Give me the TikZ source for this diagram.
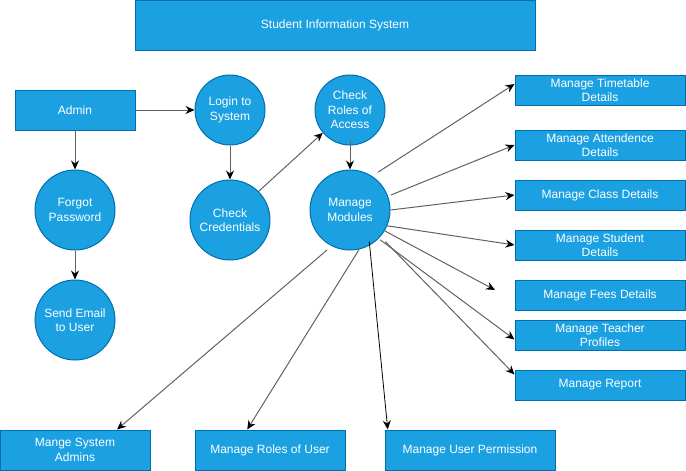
\documentclass[tikz,border=0pt]{standalone}
\usepackage{fontspec}
\setmainfont{Liberation Sans}
\usetikzlibrary{arrows.meta}
\definecolor{fillblue}{HTML}{1BA1E2}
\definecolor{strokeblue}{HTML}{006EAF}
\begin{document}
\begin{tikzpicture}[x=1pt,y=-1pt,
  every node/.style={font=\fontsize{12}{14.4}\selectfont, text=white, align=center, inner sep=0pt},
  shp/.style={draw=strokeblue, fill=fillblue, line width=1pt},
  rbox/.style={shp, rectangle, minimum width=170pt, minimum height=30pt},
  bbox/.style={shp, rectangle, minimum width=#1, minimum height=40pt},
  bigc/.style={shp, circle, minimum size=80pt},
  smallc/.style={shp, circle, minimum size=70pt},
  conn/.style={draw=black!62, line width=1pt, -{Stealth[length=9pt,width=8pt,inset=3pt,color=black]}},
  blackconn/.style={draw=black, line width=0.8pt, -{Stealth[length=9pt,width=8pt,inset=3pt,color=black]}}
]
\useasboundingbox (0,0) rectangle (686,471);

% title
\node[shp, rectangle, minimum width=400pt, minimum height=50pt] (title) at (335,25) {Student Information System};

% left part
\node[bbox=120pt] (admin) at (75,110) {Admin};
\node[bigc] (fp) at (75,210) {Forgot\\Password};
\node[bigc] (se) at (75,320) {Send Email\\to User};
\node[smallc] (login) at (230,110) {Login to\\System};
\node[bigc] (cc) at (230,220) {Check\\Credentials};
\node[smallc] (cr) at (350,110) {Check\\Roles of\\Access};
\node[bigc] (mod) at (350,210) {Manage\\Modules};

% right boxes
\node[rbox] (tt) at (600,90) {Manage Timetable\\Details};
\node[rbox] (at) at (600,145) {Manage Attendence\\Details};
\node[rbox] (cl) at (600,195) {Manage Class Details};
\node[rbox] (st) at (600,245) {Manage Student\\Details};
\node[rbox] (fe) at (600,295) {Manage Fees Details};
\node[rbox] (te) at (600,335) {Manage Teacher\\Profiles};
\node[rbox] (re) at (600,385) {Manage Report};

% bottom boxes
\node[bbox=150pt] (sa) at (75,450) {Mange System\\Admins};
\node[bbox=150pt] (ru) at (270,450) {Manage Roles of User};
\node[bbox=170pt] (up) at (470,450) {Manage User Permission};

\coordinate (feesend) at (495,290);

% connectors
\draw[conn] (admin.east) -- (login.west);
\draw[conn] (admin.south) -- (fp.north);
\draw[conn] (fp.south) -- (se.north);
\draw[conn] (login.south) -- (cc.north);
\draw[conn] (cc.45) -- (cr.220);
\draw[conn, shorten <=-5pt] (cr.south) -- (mod.north);

\draw[conn, shorten <=7pt] (mod.57) -- (tt.176);
\draw[conn, shorten <=3pt] (mod.20) -- (at.west);
\draw[conn] (mod.east) -- (cl.west);
\draw[conn] (mod.-23) -- (st.west);
\draw[conn] (mod.-31) -- (feesend);
\draw[conn, shorten <=2pt] (mod.-45) -- (te.183);
\draw[conn, shorten <=7pt] (mod.-41) -- (re.173);
\draw[blackconn, shorten <=-4pt] (mod.-61) -- (up.166);
\draw[conn, shorten <=6pt] (mod.243) -- (sa.26);
\draw[conn] (mod.-77) -- (ru.138);
\end{tikzpicture}
\end{document}
